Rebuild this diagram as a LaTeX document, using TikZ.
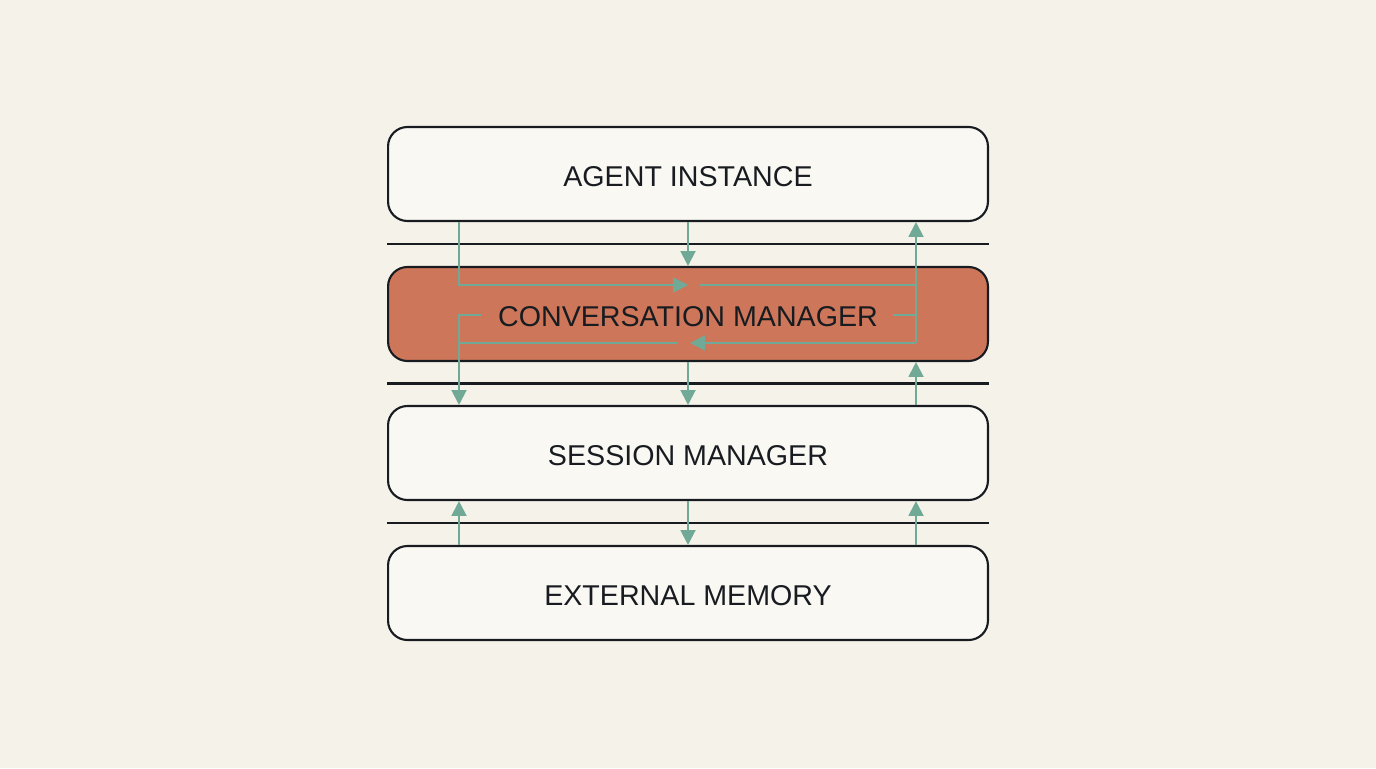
\documentclass[tikz,border=0pt]{standalone}
\usepackage{fontspec}
\setmainfont{Liberation Sans}
\usetikzlibrary{arrows.meta,positioning,calc}
\definecolor{pageBg}{RGB}{245,242,234}
\definecolor{boxFill}{RGB}{250,248,243}
\definecolor{inkDark}{RGB}{24,28,33}
\definecolor{hotFill}{RGB}{205,118,90}
\definecolor{flowTeal}{RGB}{112,170,150}
\tikzset{
  layerbox/.style={draw=inkDark, line width=1.2pt, rounded corners=11pt,
    fill=boxFill, minimum width=12cm, minimum height=1.88cm, inner sep=0pt,
    text height=0.5cm, text depth=0pt,
    font=\fontsize{16.3}{18}\selectfont, text=inkDark},
  hotbox/.style={layerbox, fill=hotFill},
  sepline/.style={line width=1.2pt, inkDark},
  flowln/.style={line width=1.2pt, flowTeal},
  flowarr/.style={flowln, -{Triangle[length=8.5pt,width=8.5pt]}},
}
\begin{document}
\begin{tikzpicture}[x=0.02cm, y=-0.02cm]
    \fill[pageBg] (0,0) rectangle (1376,768);
    \useasboundingbox (0,0) rectangle (1376,768);
    % the four layers
    \node[layerbox] (agent)   at (688,174) {AGENT INSTANCE};
    \node[hotbox]   (conv)    at (688,314) {CONVERSATION MANAGER};
    \node[layerbox] (session) at (688,453) {SESSION MANAGER};
    \node[layerbox] (memory)  at (688,593) {EXTERNAL MEMORY};
    % divider rules between the layers
    \foreach \a/\b in {agent/conv,conv/session,session/memory}
      \draw[sepline] ($(\a.south west)!.5!(\b.north west)$)
                  -- ($(\a.south east)!.5!(\b.north east)$);
    % lanes
    \coordinate (lx) at (459,0);
    \coordinate (rx) at (916,0);
    % loop points inside the conversation manager
    \coordinate (tl)  at (459,285);
    \coordinate (tm)  at (688,285);
    \coordinate (tm2) at (700,285);
    \coordinate (tr)  at (916,285);
    \coordinate (bl)  at (459,343);
    \coordinate (bm)  at (690,343);
    \coordinate (bm2) at (678,343);
    \coordinate (br)  at (916,343);
    \coordinate (ml)  at (459,315);
    \coordinate (ml2) at (481,315);
    \coordinate (mr)  at (916,315);
    \coordinate (mr2) at (893,315);
    % agent -> conversation
    \draw[flowarr] (agent.south) -- (conv.north);
    \draw[flowarr] (agent.south -| lx) -- (tl) -- (tm);
    \draw[flowln] (tm2) -- (tr);
    \draw[flowarr] (br) -- (agent.south -| rx);
    \draw[flowarr] (br) -- (bm);
    \draw[flowln] (bm2) -- (bl);
    \draw[flowln] (mr2) -- (mr);
    \draw[flowarr] (ml2) -- (ml) -- (session.north -| lx);
    % conversation <-> session
    \draw[flowarr] (conv.south) -- (session.north);
    \draw[flowarr] (session.north -| rx) -- (conv.south -| rx);
    % session <-> memory
    \draw[flowarr] (memory.north -| lx) -- (session.south -| lx);
    \draw[flowarr] (session.south) -- (memory.north);
    \draw[flowarr] (memory.north -| rx) -- (session.south -| rx);
  \end{tikzpicture}
\end{document}
